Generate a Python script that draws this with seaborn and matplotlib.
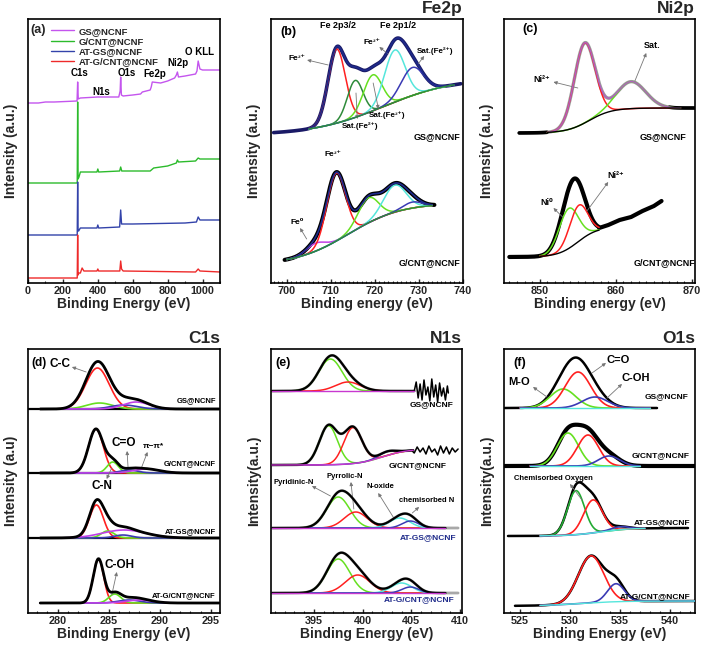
import numpy as np
import matplotlib
matplotlib.use("Agg")
import matplotlib.pyplot as plt
import seaborn as sns
from matplotlib.ticker import MultipleLocator

# ---------------- data ----------------
SAMPLES = ["GS@NCNF", "G/CNT@NCNF", "AT-GS@NCNF", "AT-G/CNT@NCNF"]

# (a) survey spectra, arbitrary stacked intensity
gs_x = [0, 60, 100, 150, 281, 284.5, 288, 300, 400, 520, 528, 531, 535, 545, 600, 645, 655, 700, 706, 712,
        760, 800, 840, 850, 856, 862, 900, 960, 968, 975, 985, 1000, 1100]
gs_y = [180, 180, 181, 181, 182, 201, 184, 185, 186, 186, 192, 206, 188, 187, 188, 189, 191, 193, 196, 201,
        200, 202, 205, 208, 211, 206, 207, 209, 212, 222, 214, 213, 213]
gc_x = [0, 282, 284.5, 287, 292, 300, 395, 400, 405, 525, 531, 537, 700, 720, 800, 850, 856, 862, 960, 975, 985, 1100]
gc_y = [100, 100, 181, 104, 106, 111, 111, 114, 111, 112, 116, 112, 112, 115, 117, 120, 123, 121, 122, 125, 124, 124]
atgs_x = [0, 282, 284.5, 287, 290, 300, 395, 400, 405, 525, 531, 536, 600, 900, 965, 975, 985, 1100]
atgs_y = [48, 48, 101, 52, 52, 55, 55, 58, 55, 56, 73, 59, 59, 60, 61, 66, 63, 63]
atgc_x = [0, 282, 284.5, 287, 292, 300, 310, 320, 395, 400, 405, 526, 531, 536, 545, 960, 975, 985, 1100]
atgc_y = [5, 5, 48, 8, 10, 10, 15, 12, 12, 14, 12, 12, 22, 14, 12, 11, 14, 12, 11]

# (b) Fe2p fits: peak centre (eV), FWHM (eV), height; background lo, hi, mid, width
FE_GS_CEN = [711.3, 715.5, 719.5, 724.5, 728.5]
FE_GS_FWHM = [4.6, 4.2, 5.0, 5.5, 6.0]
FE_GS_AMP = [74, 37, 36, 52, 28]
FE_GS_BG = [148, 205, 722, 8]
FE_GC_CEN = [706.5, 711.2, 718.5, 724.5, 728.5]
FE_GC_FWHM = [5.0, 5.0, 5.5, 6.0, 5.0]
FE_GC_AMP = [8, 68, 25, 27, 6]
FE_GC_BG = [18, 80, 714, 6]

# (c) Ni2p fits
NI_GS_CEN = [855.9, 862.0]
NI_GS_FWHM = [3.2, 4.5]
NI_GS_AMP = [80, 27]
NI_GS_BG = [150, 175, 856.5, 1.5]
NI_GC_CEN = [853.8, 855.1]
NI_GC_FWHM = [3.0, 2.8]
NI_GC_AMP = [40, 36]
NI_GC_BG = [26, 56, 855, 1.3]
NI_GC_TAIL_X = [857.8, 859, 860.5, 862, 863.5, 865, 866]
NI_GC_TAIL_Y = [55, 58, 63, 66, 72, 77, 82]

# (d) C1s fits (one row per sample)
C1S_BASE = [204, 140, 75, 10]
C1S_CEN = [[283.9, 284.1, 286.5, 287.7], [283.75, 285.4, 287.0, 288.7],
           [283.8, 284.9, 286.4, 286.5], [284.0, 285.6, 287.0, 288.0]]
C1S_FWHM = [[2.7, 3.0, 3.0, 3.0], [1.7, 1.3, 2.0, 3.0], [1.6, 1.5, 2.0, 5.0], [1.2, 1.4, 2.5, 3.0]]
C1S_AMP = [[41, 6, 4, 7], [44, 11, 3, 4], [33, 7, 3, 8], [44, 9, 3, 3]]

# (e) N1s fits
N1S_CEN = [[396.7, 398.5], [396.5, 399.0, 402.5], [397.5, 399.3, 403.8, 404.9], [397.5, 399.5, 404.0, 404.9]]
N1S_FWHM = [[2.8, 3.0], [2.2, 2.2, 2.0], [2.8, 2.8, 2.5, 2.0], [2.8, 3.0, 2.5, 2.0]]
N1S_AMP = [[32, 9], [39, 36, 4], [31, 16, 10, 7], [34, 18, 10, 6]]
N1S_BG = [[222, 222, 400, 1], [148, 164, 402, 1.3], [85, 85, 400, 1], [20, 20, 400, 1]]
N1S_NOISE1_X = [405.3, 405.5, 405.7, 405.9, 406.1, 406.3, 406.5, 406.7, 406.9, 407.1, 407.3, 407.5,
                407.7, 407.9, 408.1, 408.3, 408.5, 408.7, 408.8]
N1S_NOISE1_Y = [222, 231, 215, 229, 213, 233, 218, 226, 212, 234, 216, 228, 211, 230, 217, 225, 213, 227, 220]
N1S_NOISE2_X = [405.0, 405.3, 405.6, 405.9, 406.2, 406.5, 406.8, 407.1, 407.4, 407.7, 408.0, 408.3,
                408.6, 408.9, 409.2, 409.5, 409.8]
N1S_NOISE2_Y = [163, 160, 166, 161, 165, 159, 167, 161, 164, 158, 167, 160, 166, 159, 165, 161, 164]

# (f) O1s fits
O1S_CEN = [[529.3, 530.8, 532.5], [529.8, 531.8, 533.9], [530.6, 532.3, 535.0], [532.1, 534.6]]
O1S_FWHM = [[3.0, 3.0, 3.0], [2.5, 2.5, 2.5], [2.0, 2.2, 2.0], [3.0, 2.0]]
O1S_AMP = [[19, 36, 11], [33, 31, 10], [44, 33, 3], [47, 18]]
O1S_BG = [[205, 205, 530, 1], [147, 147, 530, 1], [77, 85, 533, 1.5], [7, 12, 531, 2]]

# ---------------- style ----------------
RED = "#ff2020"
LGREEN = "#66e020"
DKGREEN = "#2e8b3a"
MGREEN = "#22aa33"
CYAN = "#55e6dc"
BLUE = "#3a3ab4"
PURPLE = "#c040e8"
NAVY = "#1e2a8a"

sns.set_style("ticks")
plt.rcParams["font.family"] = ["Liberation Sans", "DejaVu Sans"]
plt.rcParams["font.weight"] = "bold"
plt.rcParams["axes.labelweight"] = "bold"
plt.rcParams["axes.linewidth"] = 1.2


def background(x, bg):
    lo, hi, mid, w = bg
    return lo + (hi - lo) / (1 + np.exp(-(x - mid) / w))


def components(x, cen, fwhm, amp):
    return [a * np.exp(-4 * np.log(2) * (x - c) ** 2 / w ** 2) for c, w, a in zip(cen, fwhm, amp)]


def line(ax, x, y, color, lw, z=2, label=None, alpha=1.0):
    sns.lineplot(x=np.asarray(x), y=np.asarray(y), ax=ax, color=color, linewidth=lw, estimator=None,
                 sort=False, zorder=z, label=label, alpha=alpha, legend=False)


def fit_spectrum(ax, cen, fwhm, amp, bg, fit_rng, colors, raw_rng=None, raw_color=None, raw_lw=2.5,
                 env_color="k", env_lw=1.5, bg_color=None, comp_lw=1.1):
    if raw_rng is not None:
        xr = np.linspace(raw_rng[0], raw_rng[1], 400)
        line(ax, xr, background(xr, bg) + sum(components(xr, cen, fwhm, amp)), raw_color, raw_lw, 1)
    xf = np.linspace(fit_rng[0], fit_rng[1], 400)
    b = background(xf, bg)
    comps = components(xf, cen, fwhm, amp)
    for comp, c in zip(comps, colors):
        line(ax, xf, b + comp, c, comp_lw, 3)
    if env_color:
        line(ax, xf, b + sum(comps), env_color, env_lw, 4)
    if bg_color:
        line(ax, xf, b, bg_color, 1.0, 5)


def arrow(ax, tail, head):
    ax.annotate("", xy=head, xytext=tail,
                arrowprops=dict(arrowstyle="-|>", color="#777777", lw=0.6, mutation_scale=5,
                                shrinkA=0, shrinkB=0))


def txt(ax, x, y, s, size=6, ha="center", color="k"):
    ax.text(x, y, s, fontsize=size, ha=ha, va="center", color=color, fontweight="bold", zorder=6)


def setup(ax, xlim, major, minor, xlabel, ylabel):
    ax.set_xlim(*xlim)
    ax.set_ylim(0, 264)
    ax.set_yticks([])
    ax.xaxis.set_major_locator(MultipleLocator(major))
    ax.xaxis.set_minor_locator(MultipleLocator(minor))
    ax.tick_params(axis="x", which="major", direction="in", length=3, width=1, labelsize=7.8, pad=2)
    ax.tick_params(axis="x", which="minor", direction="in", length=1.8, width=0.8)
    ax.set_xlabel(xlabel, fontsize=10, labelpad=1)
    ax.set_ylabel(ylabel, fontsize=10, labelpad=7)
    for s in ax.spines.values():
        s.set_visible(True)
        s.set_color("k")


fig = plt.figure(figsize=(7.09, 6.48), dpi=100)
W, H = 709.0, 648.0


def add_axes(l, r, t, b):
    return fig.add_axes([l / W, 1 - b / H, (r - l) / W, (b - t) / H])


ax_a = add_axes(28, 220, 19, 283)
ax_b = add_axes(271, 463, 19, 283)
ax_c = add_axes(504, 695, 19, 283)
ax_d = add_axes(28, 220, 349, 613)
ax_e = add_axes(271, 462, 349, 613)
ax_f = add_axes(504, 695, 349, 613)

# ---------------- (a) survey ----------------
for xs, ys, c, lab in zip([gs_x, gc_x, atgs_x, atgc_x], [gs_y, gc_y, atgs_y, atgc_y],
                          ["#c455ee", "#2cbb2c", "#3343aa", "#ee2a2a"], SAMPLES):
    line(ax_a, xs, ys, c, 1.0, 2, label=lab)
setup(ax_a, (0, 1100), 200, 100, "Binding Energy (eV)", "Intensity (a.u.)")
ax_a.legend(loc="upper left", bbox_to_anchor=(0.1, 0.985), frameon=False, prop={"size": 6.8, "weight": "bold"},
            handlelength=2.4, labelspacing=0.12, handletextpad=0.5, borderaxespad=0)
ax_a.text(0.01, 0.958, "(a)", transform=ax_a.transAxes, fontsize=9, fontweight="bold", va="center")
for x, y, s in [(294, 210, "C1s"), (420, 191, "N1s"), (566, 210, "O1s"), (725, 209, "Fe2p"),
                (858, 220, "Ni2p"), (984, 231, "O KLL")]:
    txt(ax_a, x, y, s, size=7)

# ---------------- (b) Fe2p ----------------
fit_spectrum(ax_b, FE_GS_CEN, FE_GS_FWHM, FE_GS_AMP, FE_GS_BG, (705, 738), [RED, DKGREEN, LGREEN, CYAN, BLUE],
             raw_rng=(697, 739.5), raw_color="#1a1a66", raw_lw=2.6, env_color=NAVY, env_lw=1.2, bg_color=DKGREEN)
fit_spectrum(ax_b, FE_GC_CEN, FE_GC_FWHM, FE_GC_AMP, FE_GC_BG, (700, 733), [PURPLE, RED, LGREEN, CYAN, BLUE],
             raw_rng=(699.5, 733.5), raw_color="k", raw_lw=3.0, env_color=NAVY, env_lw=1.2, bg_color=DKGREEN)
setup(ax_b, (696.4, 740), 10, 1, "Binding energy (eV)", "Intensity (a.u.)")
txt(ax_b, 698.6, 251, "(b)", size=9, ha="left")
txt(ax_b, 711.6, 257, "Fe 2p3/2", size=6.5)
txt(ax_b, 725.3, 257, "Fe 2p1/2", size=6.5)
txt(ax_b, 702.3, 225, "Fe³⁺", size=6)
arrow(ax_b, (709.4, 218), (704.6, 223))
txt(ax_b, 719.4, 241, "Fe³⁺", size=6)
arrow(ax_b, (723.0, 229), (721.0, 236))
txt(ax_b, 733.6, 232, "Sat.(Fe²⁺)", size=5.8)
arrow(ax_b, (729.8, 219), (731.2, 227))
txt(ax_b, 722.8, 168, "Sat.(Fe³⁺)", size=5.8)
arrow(ax_b, (719.6, 200), (720.8, 174))
txt(ax_b, 716.6, 157, "Sat.(Fe²⁺)", size=5.8)
arrow(ax_b, (715.7, 190), (716.0, 164))
txt(ax_b, 734.1, 146, "GS@NCNF", size=6.5)
txt(ax_b, 710.5, 129, "Fe³⁺", size=6)
txt(ax_b, 702.3, 61, "Fe⁰", size=6)
arrow(ax_b, (704.5, 44), (703.0, 55))
txt(ax_b, 732.5, 20, "G/CNT@NCNF", size=6.5)

# ---------------- (c) Ni2p ----------------
xr = np.linspace(847.3, 870.4, 400)
raw_ni = background(xr, NI_GS_BG) + sum(components(xr, NI_GS_CEN, NI_GS_FWHM, NI_GS_AMP))
line(ax_c, xr, raw_ni, "#9a9a9a", 2.4, 1)
line(ax_c, xr[xr < 851], raw_ni[xr < 851], "k", 2.6, 1)
line(ax_c, xr[xr > 867], raw_ni[xr > 867], "k", 2.6, 1)
fit_spectrum(ax_c, NI_GS_CEN, NI_GS_FWHM, NI_GS_AMP, NI_GS_BG, (851, 868.5), [RED, LGREEN],
             env_color="#b060c0", env_lw=1.0, bg_color="k")
fit_spectrum(ax_c, NI_GC_CEN, NI_GC_FWHM, NI_GC_AMP, NI_GC_BG, (850, 857.8), [LGREEN, RED],
             raw_rng=(846, 857.8), raw_color="k", raw_lw=3.0, env_color=None, bg_color="k")
line(ax_c, NI_GC_TAIL_X, NI_GC_TAIL_Y, "k", 3.0, 1)
setup(ax_c, (845.3, 870.4), 10, 1, "Binding energy (eV)", "Intensity (a.u.)")
txt(ax_c, 848.7, 254, "(c)", size=9)
txt(ax_c, 850.3, 204, "Ni²⁺", size=6.5)
arrow(ax_c, (855.0, 195), (851.8, 201))
txt(ax_c, 864.7, 237, "Sat.", size=6.5)
arrow(ax_c, (862.5, 202), (864.0, 230))
txt(ax_c, 866.2, 146, "GS@NCNF", size=6.5)
txt(ax_c, 860.0, 107, "Ni²⁺", size=6.5)
arrow(ax_c, (856.2, 72), (859.0, 101))
txt(ax_c, 850.9, 81, "Ni⁰", size=6.5)
arrow(ax_c, (853.0, 66), (851.8, 75))
txt(ax_c, 866.4, 20, "G/CNT@NCNF", size=6.5)

# ---------------- (d) C1s ----------------
for base in C1S_BASE[:3]:
    ax_d.axhline(base, color="k", lw=1.6, zorder=2)
for i, base in enumerate(C1S_BASE):
    fit_spectrum(ax_d, C1S_CEN[i], C1S_FWHM[i], C1S_AMP[i], [base, base, 285, 1], (278.3, 295.8),
                 [RED, LGREEN, BLUE, PURPLE], env_color="k", env_lw=2.0, comp_lw=1.2)
setup(ax_d, (277.1, 295.9), 5, 1, "Binding Energy (eV)", "Intensity (a.u)")
txt(ax_d, 277.4, 250, "(d)", size=8.5, ha="left")
txt(ax_d, 280.2, 249, "C-C", size=8.5)
arrow(ax_d, (282.8, 241), (281.4, 246))
txt(ax_d, 295.5, 212, "GS@NCNF", size=5.5, ha="right")
txt(ax_d, 286.5, 170, "C=O", size=8.5)
arrow(ax_d, (286.9, 145), (286.8, 162))
txt(ax_d, 289.4, 167, "π−π*", size=6)
arrow(ax_d, (288.2, 145), (288.8, 161))
txt(ax_d, 295.5, 149, "G/CNT@NCNF", size=5.5, ha="right")
txt(ax_d, 284.3, 127, "C-N", size=8.5)
arrow(ax_d, (285.3, 145), (284.8, 134))
txt(ax_d, 295.5, 81, "AT-GS@NCNF", size=5.5, ha="right")
txt(ax_d, 286.1, 48, "C-OH", size=8.5)
arrow(ax_d, (285.3, 18), (285.8, 41))
txt(ax_d, 295.5, 17, "AT-G/CNT@NCNF", size=5.5, ha="right")

# ---------------- (e) N1s ----------------
n1s_colors = [[LGREEN, RED], [LGREEN, RED, BLUE], [LGREEN, RED, CYAN, BLUE], [LGREEN, RED, CYAN, BLUE]]
n1s_fit = [(390.7, 405.3), (390.7, 405.2), (390.7, 408.5), (390.7, 408.5)]
n1s_raw = [(390.7, 405.3), (390.7, 405.0), (390.7, 409.8), (390.7, 409.8)]
for i in range(4):
    fit_spectrum(ax_e, N1S_CEN[i], N1S_FWHM[i], N1S_AMP[i], N1S_BG[i], n1s_fit[i], n1s_colors[i],
                 raw_rng=n1s_raw[i], raw_color="#a8a8a8", raw_lw=2.0, env_color="k", env_lw=1.6,
                 bg_color="#c838d0")
line(ax_e, N1S_NOISE1_X, N1S_NOISE1_Y, "k", 1.1, 2)
line(ax_e, N1S_NOISE2_X, N1S_NOISE2_Y, "k", 1.1, 2)
setup(ax_e, (390.6, 410.2), 5, 1, "Binding Energy (eV)", "Intensity(a.u.)")
txt(ax_e, 391.1, 250, "(e)", size=9, ha="left")
txt(ax_e, 409.3, 208, "GS@NCNF", size=6, ha="right")
txt(ax_e, 408.6, 147, "G/CNT@NCNF", size=6, ha="right")
txt(ax_e, 392.9, 131, "Pyridinic-N", size=5.5)
arrow(ax_e, (396.7, 117), (394.8, 127))
txt(ax_e, 398.2, 137, "Pyrrolic-N", size=5.5)
arrow(ax_e, (399.1, 104), (398.8, 131))
txt(ax_e, 401.8, 126, "N-oxide", size=5.5)
arrow(ax_e, (403.2, 95), (401.6, 120))
txt(ax_e, 406.6, 112, "chemisorbed N", size=5.5)
arrow(ax_e, (405.1, 100), (405.8, 106))
txt(ax_e, 409.6, 75, "AT-GS@NCNF", size=6, ha="right", color=NAVY)
txt(ax_e, 409.4, 13, "AT-G/CNT@NCNF", size=6, ha="right", color=NAVY)

# ---------------- (f) O1s ----------------
o1s_colors = [[LGREEN, RED, BLUE], [LGREEN, RED, BLUE], [MGREEN, RED, BLUE], [RED, BLUE]]
o1s_fit = [(525.0, 538.0), (526.0, 537.0), (527.0, 537.5), (527.0, 542.5)]
o1s_raw = [(523.5, 538.7), (523.5, 542.5), (523.8, 541.8), (524.5, 542.5)]
o1s_lw = [1.8, 3.0, 1.8, 1.8]
for i in range(4):
    fit_spectrum(ax_f, O1S_CEN[i], O1S_FWHM[i], O1S_AMP[i], O1S_BG[i], o1s_fit[i], o1s_colors[i],
                 raw_rng=o1s_raw[i], raw_color="k", raw_lw=o1s_lw[i], env_color=None, bg_color=CYAN,
                 comp_lw=1.2)
setup(ax_f, (523.4, 542.5), 5, 1, "Binding Energy (eV)", "Intensity(a.u.)")
txt(ax_f, 524.3, 250, "(f)", size=9, ha="left")
txt(ax_f, 524.9, 231, "M-O", size=8)
arrow(ax_f, (527.7, 216), (526.3, 226))
txt(ax_f, 534.8, 253, "C=O", size=8)
arrow(ax_f, (532.2, 240), (533.6, 250))
txt(ax_f, 536.6, 235, "C-OH", size=8)
arrow(ax_f, (533.7, 215), (535.2, 229))
txt(ax_f, 541.8, 216, "GS@NCNF", size=6, ha="right")
txt(ax_f, 542.0, 157, "G/CNT@NCNF", size=6, ha="right")
txt(ax_f, 528.3, 134, "Chemisorbed Oxygen", size=5.5)
arrow(ax_f, (531.2, 113), (530.0, 129))
txt(ax_f, 542.0, 90, "AT-GS@NCNF", size=6, ha="right")
txt(ax_f, 542.0, 16, "AT-G/CNT@NCNF", size=6, ha="right")

# ---------------- panel titles ----------------
for ax, title in [(ax_b, "Fe2p"), (ax_c, "Ni2p"), (ax_d, "C1s"), (ax_e, "N1s"), (ax_f, "O1s")]:
    pos = ax.get_position()
    fig.text(pos.x1, pos.y1 + 0.004, title, ha="right", va="bottom", fontsize=12.5, fontweight="bold")

fig.savefig("out.png", dpi=100)
